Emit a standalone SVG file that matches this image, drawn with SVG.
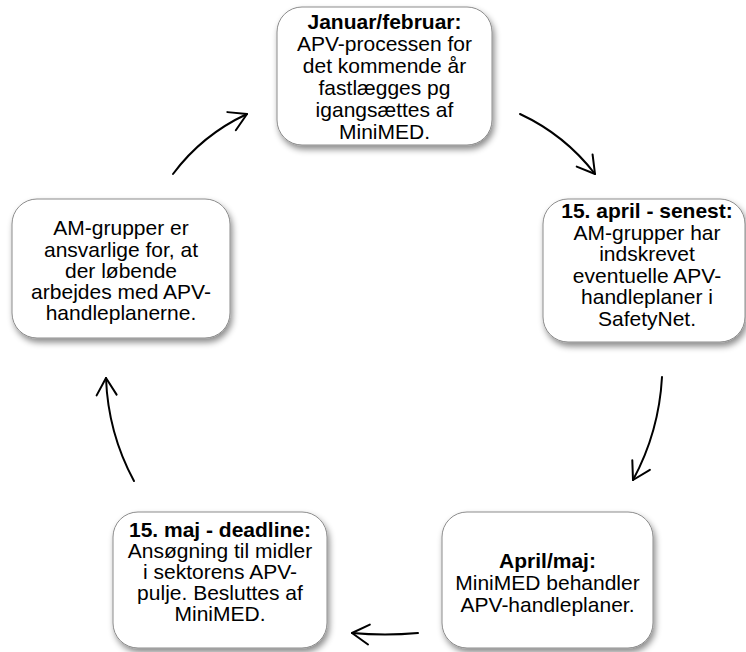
<svg xmlns="http://www.w3.org/2000/svg" width="746" height="652" viewBox="0 0 746 652">
<style>
.box{fill:#ffffff;stroke:#8c8c8c;stroke-width:1;filter:url(#sh)}
text{font-family:"Liberation Sans",Arial,sans-serif;font-size:21px;fill:#000;text-anchor:middle}
.b{font-weight:bold}
.arr{fill:none;stroke:#000;stroke-width:2;stroke-linecap:round;marker-end:url(#ah)}
</style>
<defs>
<filter id="sh" x="-10%" y="-10%" width="130%" height="130%">
<feDropShadow dx="2" dy="4" stdDeviation="3" flood-color="#000" flood-opacity="0.45"/>
</filter>
<marker id="ah" markerUnits="userSpaceOnUse" markerWidth="40" markerHeight="40" viewBox="-20 -20 40 40" refX="0" refY="0" orient="auto">
<path d="M -17 -10 L 0 0 L -17 10" fill="none" stroke="#000" stroke-width="2" stroke-linecap="round" stroke-linejoin="round"/>
</marker>
</defs>
<g id="connectors">
<path class="arr" d="M 173 174 Q 202 135 247 114"/>
<path class="arr" d="M 520 114 Q 565 135 595 174"/>
<path class="arr" d="M 662 377 Q 659 432 633 480"/>
<path class="arr" d="M 418 633 Q 385 636 352 633"/>
<path class="arr" d="M 134 481 Q 108 433 106 378"/>
</g>
<g id="n1">
<rect class="box" x="277" y="7" width="215" height="138" rx="25"/>
<text x="384.5" y="29" class="b">Januar/februar:</text>
<text x="384.5" y="51">APV-processen for</text>
<text x="384.5" y="73">det kommende år</text>
<text x="384.5" y="95">fastlægges pg</text>
<text x="384.5" y="117">igangsættes af</text>
<text x="384.5" y="139">MiniMED.</text>
</g>
<g id="n2">
<rect class="box" x="543" y="199" width="202" height="143" rx="25"/>
<text x="647" y="218" class="b">15. april - senest:</text>
<text x="647" y="239.5">AM-grupper har</text>
<text x="647" y="261">indskrevet</text>
<text x="647" y="282.5">eventuelle APV-</text>
<text x="647" y="304">handleplaner i</text>
<text x="647" y="325.5">SafetyNet.</text>
</g>
<g id="n3">
<rect class="box" x="442" y="512" width="211" height="136" rx="25"/>
<text x="547.5" y="568" class="b">April/maj:</text>
<text x="547.5" y="590">MiniMED behandler</text>
<text x="547.5" y="611.5">APV-handleplaner.</text>
</g>
<g id="n4">
<rect class="box" x="113" y="512" width="214" height="136" rx="25"/>
<text x="220" y="536.5" class="b">15. maj - deadline:</text>
<text x="220" y="557.5">Ansøgning til midler</text>
<text x="220" y="578.5">i sektorens APV-</text>
<text x="220" y="599.5">pulje. Besluttes af</text>
<text x="220" y="620.5">MiniMED.</text>
</g>
<g id="n5">
<rect class="box" x="12" y="199" width="218" height="139" rx="25"/>
<text x="121" y="235">AM-grupper er</text>
<text x="121" y="256.5">ansvarlige for, at</text>
<text x="121" y="277.5">der løbende</text>
<text x="121" y="298.5">arbejdes med APV-</text>
<text x="121" y="320">handleplanerne.</text>
</g>
</svg>
